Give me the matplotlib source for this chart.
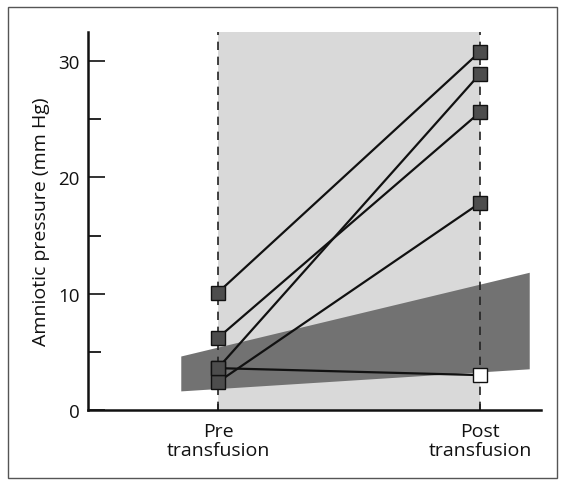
import matplotlib
matplotlib.use("Agg")
import matplotlib.pyplot as plt
from matplotlib.patches import Rectangle, Polygon
from matplotlib.ticker import MultipleLocator

plt.rcParams['font.family'] = ['Open Sans', 'DejaVu Sans']

# Data
categories = ["Pre\ntransfusion", "Post\ntransfusion"]
cat_pos = [0, 1]
pre_values = [10.1, 6.2, 3.6, 2.4, 3.6]
post_values = [30.8, 25.6, 28.9, 17.8, 3.0]
post_open = [False, False, False, False, True]
# normal range band (x, lower, upper)
band_x = [-0.14, 1.19]
band_low = [1.6, 3.5]
band_high = [4.6, 11.8]

fig = plt.figure(figsize=(5.63, 4.81), dpi=100)
ax = fig.add_axes([88/563, 1-411/481, 453/563, (411-33)/481])

ax.set_xlim(-0.496, 1.233)
ax.set_ylim(0, 32.5)

# light shaded region between pre and post
ax.axvspan(cat_pos[0], cat_pos[1], color='#d9d9d9', zorder=0, lw=0)

# dark normal-range band
poly = Polygon([(band_x[0], band_low[0]), (band_x[1], band_low[1]),
                (band_x[1], band_high[1]), (band_x[0], band_high[0])],
               closed=True, facecolor='#727272', edgecolor='none', zorder=1)
ax.add_patch(poly)

# dashed verticals
for xp in cat_pos:
    ax.axvline(xp, color='#222222', lw=1.2, ls=(0, (5, 4)), zorder=2)

# lines and markers
for pv, qv, op in zip(pre_values, post_values, post_open):
    ax.plot(cat_pos, [pv, qv], color='#111111', lw=1.6, zorder=3)
    ax.plot(cat_pos[0], pv, marker='s', ms=10, mfc='#4d4d4d', mec='#111111',
            mew=1.0, zorder=4, ls='none')
    ax.plot(cat_pos[1], qv, marker='s', ms=10,
            mfc='white' if op else '#4d4d4d', mec='#111111', mew=1.0,
            zorder=4, ls='none')

for s in ['top', 'right']:
    ax.spines[s].set_visible(False)
for s in ['left', 'bottom']:
    ax.spines[s].set_linewidth(1.8)
    ax.spines[s].set_color('#111111')

ax.yaxis.set_major_locator(MultipleLocator(10))
ax.yaxis.set_minor_locator(MultipleLocator(5))
ax.tick_params(axis='y', which='major', direction='in', length=12, width=1.2,
               labelsize=13.5, pad=6, colors='#111111')
ax.tick_params(axis='y', which='minor', direction='in', length=9, width=1.2)
ax.set_xticks(cat_pos)
ax.set_xticklabels(categories)
ax.tick_params(axis='x', direction='in', length=4, width=1.2, labelsize=14,
               pad=9, colors='#111111')
for lbl in ax.get_xticklabels():
    lbl.set_linespacing(1.05)

ax.set_ylabel("Amniotic pressure (mm Hg)", fontsize=14, labelpad=6, color='#111111')

# figure border
fig.patches.append(Rectangle((8/563, 1-479/481), (557-8)/563, (479-8)/481,
                             transform=fig.transFigure, fill=False,
                             edgecolor='#555555', lw=1.0))

fig.savefig("out.png", dpi=100)
